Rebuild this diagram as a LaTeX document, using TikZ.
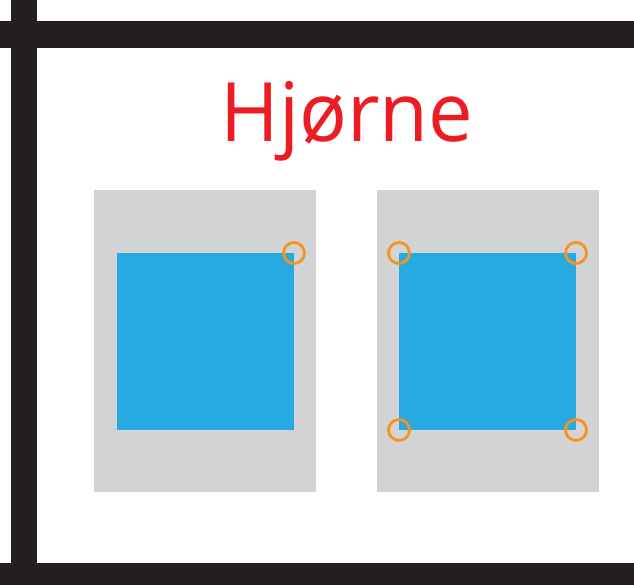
\documentclass[tikz,border=0pt]{standalone}
\usepackage{fontspec}
\setmainfont{Open Sans}
\usepackage{xcolor}
\usetikzlibrary{positioning}

\definecolor{barblack}{HTML}{231F20}
\definecolor{panelgrey}{HTML}{D1D3D4}
\definecolor{boxblue}{HTML}{27A9E1}
\definecolor{markorange}{HTML}{F7941D}
\definecolor{titlered}{HTML}{ED1C24}

\begin{document}
\begin{tikzpicture}[
    x=1pt, y=-1pt,
    bar/.style = {fill=barblack, draw=none},
    panel/.style = {fill=panelgrey, draw=none},
    square/.style = {fill=boxblue, draw=none},
    corner/.style = {draw=markorange, line width=2.8pt, fill=none}
]
\useasboundingbox (0,0) rectangle (634,585);

% Frame bars
\fill[bar] (11,0) rectangle (37,585);
\fill[bar] (0,21) rectangle (634,48);
\fill[bar] (0,563) rectangle (634,585);

% Title
\node (title) [anchor=base, text=titlered, font=\fontsize{82}{90}\selectfont, xscale=0.97] at (347,142) {Hjørne};

% Left panel
\fill[panel] (94,190) rectangle (316,492);
\fill[square] (117,253) rectangle (294,430);
\coordinate (ltr) at (294,253);
\draw[corner] (ltr) circle (10.5);

% Right panel
\fill[panel] (377,190) rectangle (599,492);
\fill[square] (399,253) rectangle (576,430);
\coordinate (rtl) at (399,253);
\coordinate (rtr) at (576,253);
\coordinate (rbl) at (399,430);
\coordinate (rbr) at (576,430);
\foreach \c in {rtl,rtr,rbl,rbr}
    \draw[corner] (\c) circle (10.5);

\end{tikzpicture}
\end{document}
